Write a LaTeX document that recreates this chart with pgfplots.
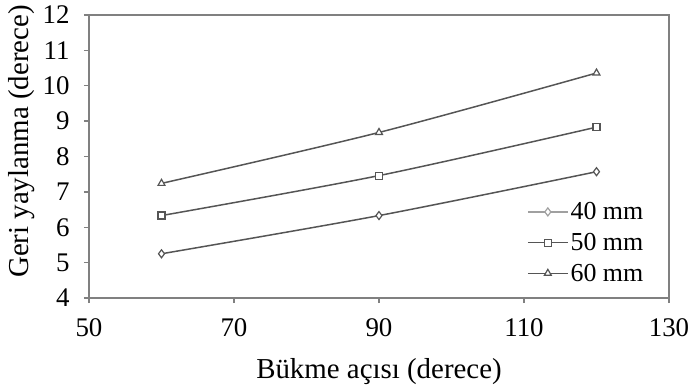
\documentclass[border=0pt]{standalone}
\usepackage{fontspec}
\setmainfont{Liberation Serif}
\usepackage{pgfplots}
\pgfplotsset{compat=1.18}
\definecolor{lc}{HTML}{555555}
\definecolor{lc40}{HTML}{A0A0A0}
\begin{document}
\begin{tikzpicture}
\path[use as bounding box] (-89bp,-93bp) rectangle (610bp,298bp);
\begin{axis}[
  at={(0,0)}, anchor=south west,
  scale only axis,
  width=580bp, height=283bp,
  xmin=50, xmax=130, ymin=4, ymax=12,
  xtick={50,70,90,110,130},
  ytick={4,5,...,12},
  axis line style={draw=gray, line width=1.3pt},
  tick style={draw=gray, line width=1.3pt},
  tick align=outside,
  xtick pos=bottom, ytick pos=left,
  major tick length=5bp,
  /pgf/number format/assume math mode=true,
  tick label style={font=\fontsize{27}{30}\selectfont},
  yticklabel style={xshift=-11bp},
  xticklabel style={yshift=-12bp},
  xlabel={Bükme açısı (derece)},
  ylabel={Geri yaylanma (derece)},
  xlabel style={font=\fontsize{29}{32}\selectfont, at={(axis description cs:0.5,0)}, anchor=base, yshift=-80bp},
  ylabel style={font=\fontsize{29}{32}\selectfont, at={(axis description cs:-0.145,0.553)}, anchor=north},
  legend style={draw=none, fill=none, at={(0.755,0.345)}, anchor=north west,
    font=\fontsize{26}{28}\selectfont, row sep=8bp, inner sep=0pt},
  legend cell align=left,
  legend image code/.code={\draw[mark repeat=2,mark phase=2,#1] plot coordinates {(0bp,0bp) (20bp,0bp) (40bp,0bp)};},
  every axis plot/.append style={line width=1.5pt, smooth},
]
\addplot[color=lc, mark=diamond*, mark options={fill=white, draw=lc, mark size=4bp, line width=1.2pt}, forget plot] coordinates {(60,5.25) (90,6.33) (120,7.57)};
\addlegendimage{color=lc40, line width=1.5pt, mark=diamond*, mark options={fill=white, draw=lc40, mark size=4bp, line width=1.2pt}}
\addlegendentry{40 mm}
\addplot[color=lc, mark=square*, mark options={fill=white, draw=lc, mark size=3.5bp, line width=1.2pt}] coordinates {(60,6.33) (90,7.46) (120,8.83)};
\addlegendentry{50 mm}
\addplot[color=lc, mark=triangle*, mark options={fill=white, draw=lc, mark size=4bp, line width=1.2pt}] coordinates {(60,7.24) (90,8.68) (120,10.36)};
\addlegendentry{60 mm}
\end{axis}
\end{tikzpicture}
\end{document}
